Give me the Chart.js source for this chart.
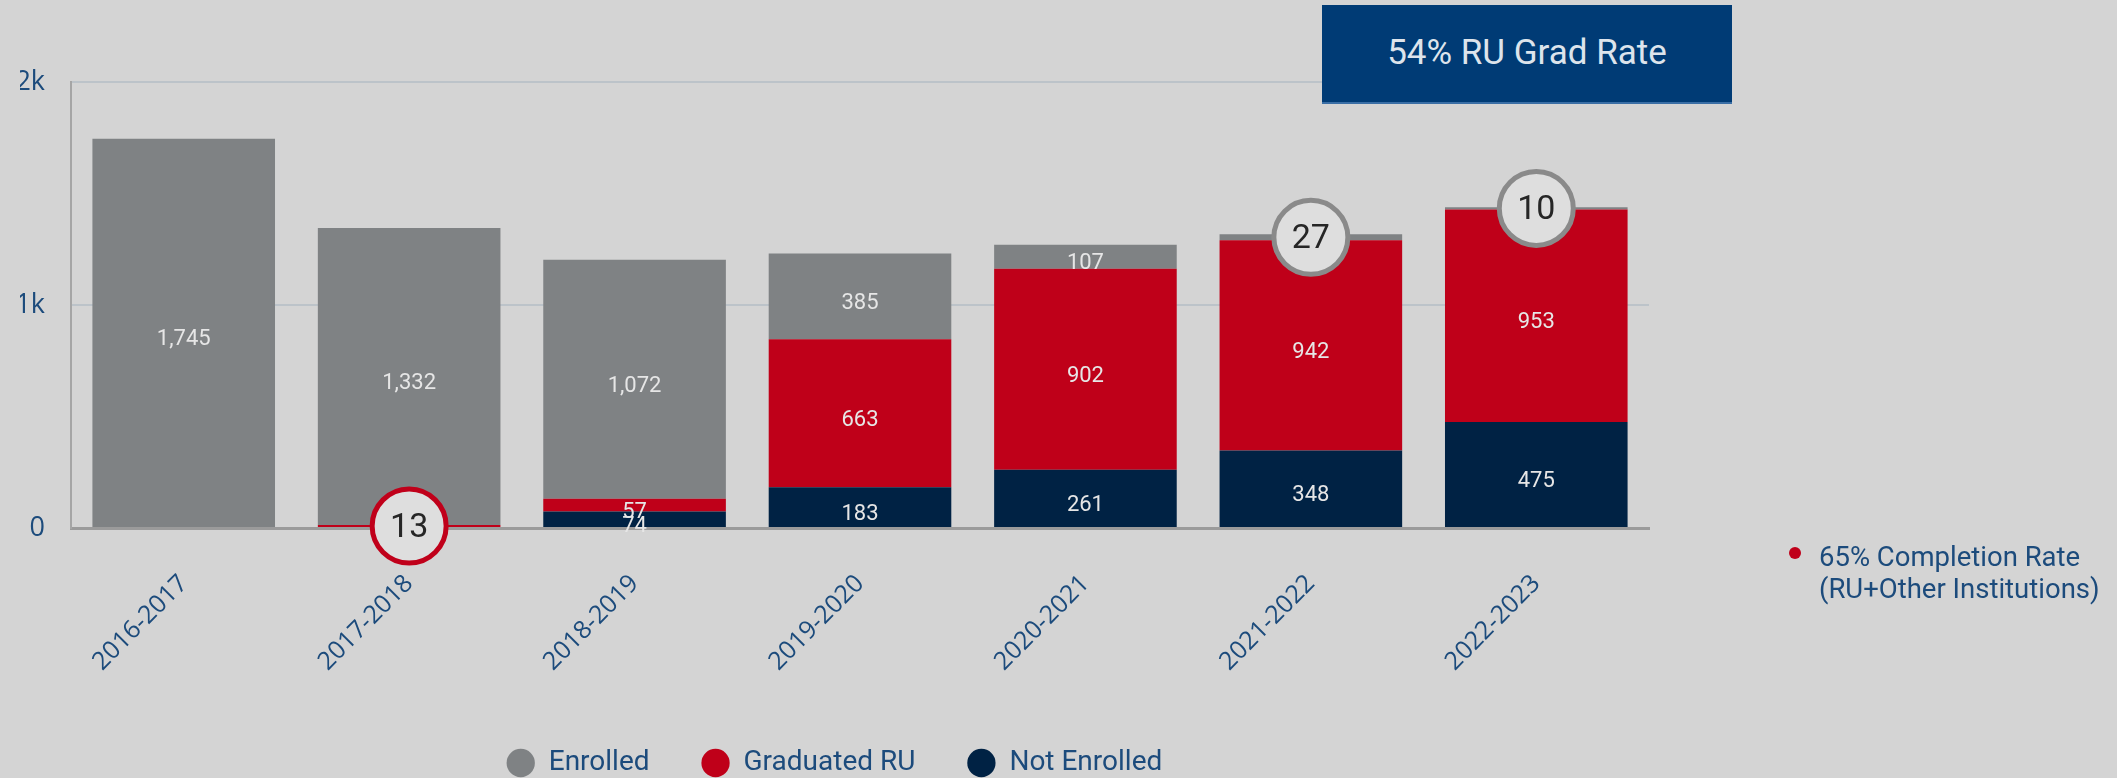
<!DOCTYPE html>
<html>
<head>
<meta charset="utf-8">
<script src="https://cdn.jsdelivr.net/npm/chart.js@4.4.1/dist/chart.umd.min.js"></script>
<style>
  html, body { margin: 0; padding: 0; background: #d4d4d4; }
  #wrap { position: relative; width: 2117px; height: 778px; overflow: hidden; background: #d4d4d4; }
  #chart { position: absolute; left: 0; top: 0; }
  #rateBox {
    position: absolute; left: 1322px; top: 5px; width: 410px; height: 99px;
    background: #003b75; color: #dde4ec; border-bottom: 2px solid #3a6ea5; box-sizing: border-box;
    font-family: Roboto, sans-serif; font-size: 35px; line-height: 95px; text-align: center;
  }
  #note {
    position: absolute; left: 1819px; top: 541px; color: #1c4b7c;
    font-family: Roboto, sans-serif; font-size: 27.5px; line-height: 32px; white-space: nowrap;
  }
  #note .dot {
    position: absolute; left: -30px; top: 6px; width: 12px; height: 12px; border-radius: 50%; background: #c0001a;
  }
</style>
</head>
<body>
<div id="wrap">
  <canvas id="chart" width="2117" height="778"></canvas>
  <div id="rateBox">54% RU Grad Rate</div>
  <div id="note"><span class="dot"></span>65% Completion Rate<br>(RU+Other Institutions)</div>
</div>
<script>
const categories = ['2016-2017', '2017-2018', '2018-2019', '2019-2020', '2020-2021', '2021-2022', '2022-2023'];
const enrolled    = [1745, 1332, 1072, 385, 107, 27, 10];
const graduatedRU = [0, 13, 57, 663, 902, 942, 953];
const notEnrolled = [0, 0, 74, 183, 261, 348, 475];
const yTickLabels = { 0: '0', 1000: '1k', 2000: '2k' };
const seriesNames = ['Not Enrolled', 'Graduated RU', 'Enrolled'];

const C_GRAY = '#7f8284', C_RED = '#bf0019', C_NAVY = '#002244', C_TEXT = '#1c4b7c';

const valueLabels = {
  id: 'valueLabels',
  afterDatasetsDraw(chart) {
    const ctx = chart.ctx;
    ctx.save();
    const callouts = [];
    chart.data.datasets.forEach((ds, i) => {
      const meta = chart.getDatasetMeta(i);
      meta.data.forEach((bar, j) => {
        const v = ds.data[j];
        if (!v) return;
        const cy = (bar.y + bar.base) / 2;
        if (v < 40) { callouts.push({ x: bar.x, y: cy, v, color: ds.calloutColor }); return; }
        ctx.font = '22px Roboto';
        ctx.fillStyle = '#e6e6e6';
        ctx.textAlign = 'center';
        ctx.textBaseline = 'middle';
        ctx.fillText(v.toLocaleString('en-US'), bar.x, cy + 7);
      });
    });
    callouts.forEach(c => {
      ctx.beginPath();
      ctx.arc(c.x, c.y, 37, 0, Math.PI * 2);
      ctx.fillStyle = '#dedede';
      ctx.fill();
      ctx.lineWidth = 5;
      ctx.strokeStyle = c.color;
      ctx.stroke();
      ctx.font = '34px Roboto';
      ctx.fillStyle = '#262626';
      ctx.textAlign = 'center';
      ctx.textBaseline = 'middle';
      ctx.fillText(String(c.v), c.x, c.y + 2);
    });
    ctx.restore();
  }
};

Chart.defaults.font.family = 'Roboto';
new Chart(document.getElementById('chart'), {
  type: 'bar',
  data: {
    labels: categories,
    datasets: [
      { label: seriesNames[0], data: notEnrolled, backgroundColor: C_NAVY, calloutColor: C_NAVY },
      { label: seriesNames[1], data: graduatedRU, backgroundColor: C_RED, calloutColor: '#c0001a' },
      { label: seriesNames[2], data: enrolled, backgroundColor: C_GRAY, calloutColor: '#8a8a8a' }
    ]
  },
  options: {
    responsive: false,
    animation: false,
    events: [],
    datasets: { bar: { barPercentage: 0.81, categoryPercentage: 1, borderWidth: 0 } },
    layout: { padding: { left: 20, right: 468, top: 82, bottom: -9 } },
    scales: {
      x: {
        stacked: true,
        grid: { display: false, drawTicks: false },
        border: { display: true, color: '#9b9b9b', width: 3 },
        ticks: { color: C_TEXT, font: { size: 25, family: 'Open Sans' }, minRotation: 45, maxRotation: 45, padding: 41 },
        afterFit(scale) { scale.height = 169; }
      },
      y: {
        stacked: true,
        min: 0, max: 2000,
        grid: { color: '#bcc3c9', lineWidth: 2, drawTicks: false },
        border: { display: true, color: '#a5a5a5', width: 2 },
        ticks: {
          stepSize: 1000, color: C_TEXT, font: { size: 27, family: 'Open Sans' }, padding: 26,
          callback: (v) => yTickLabels[v] !== undefined ? yTickLabels[v] : ''
        },
        afterFit(scale) { scale.width = 51; }
      }
    },
    plugins: {
      tooltip: { enabled: false },
      legend: {
        position: 'bottom',
        labels: {
          usePointStyle: true, pointStyle: 'circle', boxWidth: 28, boxHeight: 20,
          padding: 52, color: C_TEXT, font: { size: 28 },
          sort: (a, b) => b.datasetIndex - a.datasetIndex
        }
      }
    }
  },
  plugins: [valueLabels]
});
</script>
</body>
</html>
